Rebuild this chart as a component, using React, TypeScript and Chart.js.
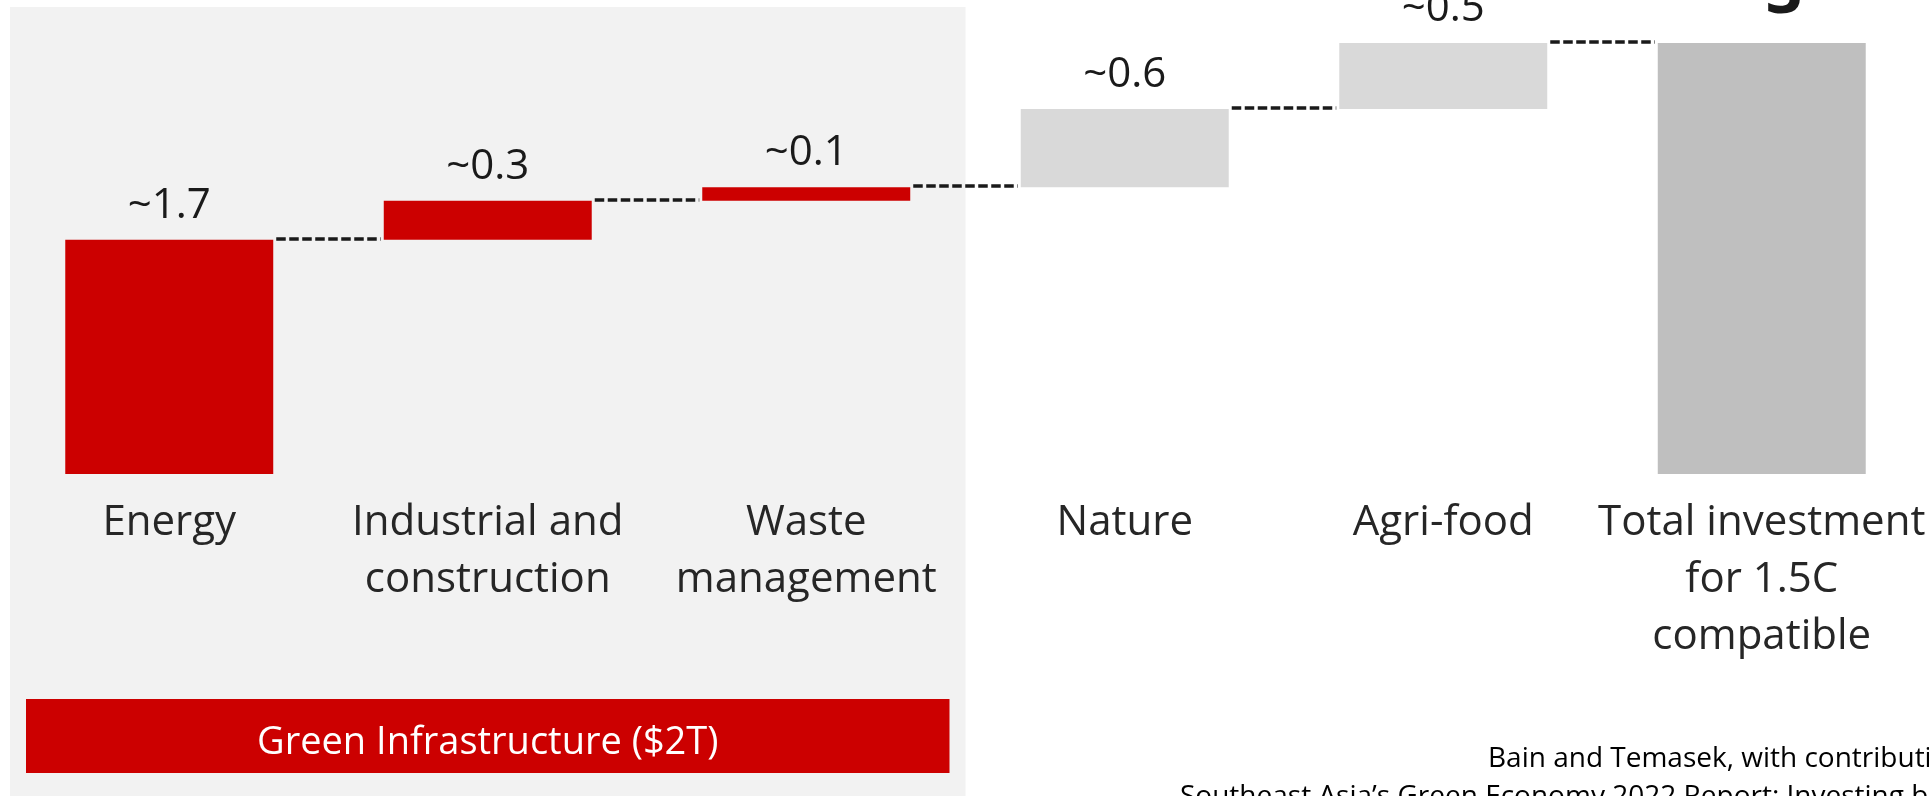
import { useEffect, useRef } from "react";
import { Chart, registerables } from "chart.js";

Chart.register(...registerables);

// ---- data ----
const categories: string[][] = [
  ["Energy"],
  ["Industrial and", "construction"],
  ["Waste", "management"],
  ["Nature"],
  ["Agri-food"],
  ["Total investment", "for 1.5C", "compatible"],
];
const stepValues = [1.74, 0.29, 0.1, 0.58, 0.49];
const valueLabels = ["~1.7", "~0.3", "~0.1", "~0.6", "~0.5", "~3"];
const barColors = ["#CC0000", "#CC0000", "#CC0000", "#D9D9D9", "#D9D9D9", "#BFBFBF"];
const groupLabel = "Green Infrastructure ($2T)";
const groupSize = 3;
const sourceLines = [
  "Bain and Temasek, with contributions from Microsoft",
  "Southeast Asia\u2019s Green Economy 2022 Report: Investing behind new realities",
];

const FONT = "'Open Sans', 'Noto Sans', sans-serif";

function buildFloating(): [number, number][] {
  const out: [number, number][] = [];
  let acc = 0;
  for (const v of stepValues) {
    out.push([acc, acc + v]);
    acc += v;
  }
  out.push([0, acc]);
  return out;
}

export default function App() {
  const ref = useRef<HTMLCanvasElement | null>(null);

  useEffect(() => {
    let chart: Chart | null = null;
    let cancelled = false;
    const floating = buildFloating();

    const decor = {
      id: "decor",
      beforeDraw(c: any) {
        const { ctx, chartArea, scales } = c;
        const x = scales.x;
        const boundary = (x.getPixelForValue(groupSize - 1) + x.getPixelForValue(groupSize)) / 2;
        ctx.save();
        ctx.fillStyle = "#FFFFFF";
        ctx.fillRect(0, 0, c.width, c.height);
        ctx.fillStyle = "#F2F2F2";
        ctx.fillRect(chartArea.left, 7, boundary - chartArea.left, c.height - 7);
        ctx.fillStyle = "#CC0000";
        ctx.fillRect(chartArea.left + 16, 699, boundary - chartArea.left - 32, 74);
        ctx.fillStyle = "#FFFFFF";
        ctx.font = `38px ${FONT}`;
        ctx.textAlign = "center";
        ctx.textBaseline = "alphabetic";
        ctx.fillText(groupLabel, (chartArea.left + boundary) / 2, 754);
        ctx.restore();
      },
      afterDatasetsDraw(c: any) {
        const { ctx, scales } = c;
        const meta = c.getDatasetMeta(0);
        const y = scales.y;
        ctx.save();
        ctx.strokeStyle = "#1a1a1a";
        ctx.lineWidth = 3.5;
        ctx.setLineDash([9.5, 3.5]);
        for (let i = 0; i < meta.data.length - 1; i++) {
          const a: any = meta.data[i];
          const b: any = meta.data[i + 1];
          const level = Math.round(y.getPixelForValue(floating[i][1])) - 1;
          const x1 = a.x + a.width / 2 + 3;
          const x2 = b.x - b.width / 2 - 3;
          ctx.beginPath();
          ctx.moveTo(x1, level);
          ctx.lineTo(x2, level);
          ctx.stroke();
        }
        ctx.setLineDash([]);
        ctx.fillStyle = "#1a1a1a";
        ctx.textAlign = "center";
        ctx.textBaseline = "alphabetic";
        meta.data.forEach((el: any, i: number) => {
          const top = Math.min(el.y, el.base);
          const isTotal = i === meta.data.length - 1;
          ctx.font = isTotal ? `bold 64px ${FONT}` : `42px ${FONT}`;
          ctx.fillText(valueLabels[i], el.x + (isTotal ? 4 : 0), top - (isTotal ? 30 : 22));
        });
        ctx.restore();
      },
      afterDraw(c: any) {
        const { ctx } = c;
        ctx.save();
        ctx.fillStyle = "#000000";
        ctx.font = `28px ${FONT}`;
        ctx.textAlign = "left";
        ctx.textBaseline = "alphabetic";
        ctx.fillText(sourceLines[0], 1488, 767);
        ctx.fillText(sourceLines[1], 1180, 805);
        ctx.restore();
      },
    };

    const create = () => {
      if (cancelled || !ref.current) return;
      chart = new Chart(ref.current, {
        type: "bar",
        data: {
          labels: categories as any,
          datasets: [
            {
              data: floating as any,
              backgroundColor: barColors,
              borderWidth: 0,
              borderSkipped: false,
              categoryPercentage: 1,
              barPercentage: 0.653,
            },
          ],
        },
        options: {
          animation: false,
          responsive: false,
          devicePixelRatio: 1,
          layout: { padding: { left: 10, right: 8, top: 0, bottom: 0 } },
          plugins: {
            legend: { display: false },
            tooltip: { enabled: false },
            title: { display: false },
          },
          scales: {
            x: {
              grid: { display: false, drawTicks: false },
              border: { display: false },
              ticks: {
                color: "#262626",
                font: { family: FONT, size: 42, lineHeight: 1.36 },
                padding: 20,
                maxRotation: 0,
                minRotation: 0,
                autoSkip: false,
              },
              afterFit: (s: any) => {
                s.height = 322;
                s.paddingLeft = 0;
                s.paddingRight = 0;
              },
            },
            y: { display: false, min: 0, max: 3.52 },
          },
        },
        plugins: [decor],
      });
    };

    if ((document as any).fonts && (document as any).fonts.load) {
      Promise.all([
        (document as any).fonts.load(`42px 'Open Sans'`),
        (document as any).fonts.load(`bold 64px 'Open Sans'`),
      ])
        .catch(() => null)
        .then(create);
    } else {
      create();
    }

    return () => {
      cancelled = true;
      if (chart) chart.destroy();
    };
  }, []);

  return (
    <div
      style={{
        position: "fixed",
        left: 0,
        top: 0,
        width: 1929,
        height: 796,
        overflow: "hidden",
        background: "#fff",
      }}
    >
      <canvas ref={ref} width={1929} height={796} style={{ width: 1929, height: 796, display: "block" }} />
    </div>
  );
}
